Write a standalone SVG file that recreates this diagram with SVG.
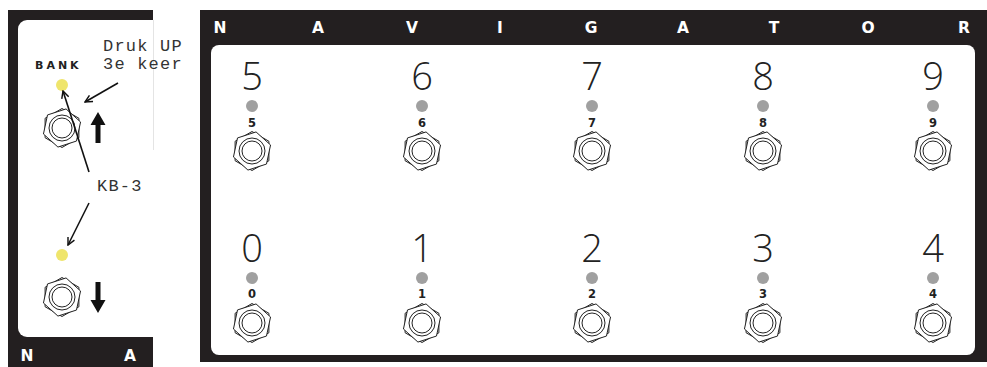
<svg xmlns="http://www.w3.org/2000/svg" width="987" height="367" viewBox="0 0 987 367">
<style>
.hdr{font-family:"DejaVu Sans","Liberation Sans",sans-serif;font-weight:bold;font-size:15.5px;fill:#fff;text-anchor:middle}
.big{font-family:"Open Sans","Lato","DejaVu Sans",sans-serif;font-weight:300;font-size:38px;fill:#222;text-anchor:middle}
.sm{font-family:"DejaVu Sans","Liberation Sans",sans-serif;font-weight:bold;font-size:11.5px;fill:#222;text-anchor:middle}
.mono{font-family:"Liberation Mono","Courier New",monospace;font-size:17px;letter-spacing:1.2px;fill:#333}
.led{fill:#a0a0a0}
.yled{fill:#efe56c}
.fs polygon,.fs circle{fill:#fff;stroke:#222;stroke-width:1}
.conn{stroke:#111;stroke-width:1.6;fill:none}
</style>
<defs>
<g id="fsw" class="fs">
<polygon points="0,-19.5 16.9,-9.75 16.9,9.75 0,19.5 -16.9,9.75 -16.9,-9.75"/>
<polygon points="4.05,-19.07 18.55,-6.03 14.49,13.05 -4.05,19.07 -18.55,6.03 -14.49,-13.05" fill="none"/>
<circle r="13"/>
<circle r="10"/>
</g>
<marker id="ah" viewBox="0 0 10 10" refX="9" refY="5" markerWidth="9" markerHeight="9" orient="auto" markerUnits="userSpaceOnUse">
<path d="M1,1 L9,5 L1,9" fill="none" stroke="#111" stroke-width="1.6"/>
</marker>
</defs>
<rect width="987" height="367" fill="#fff"/>

<!-- left panel -->
<g id="left-panel">
<rect x="8" y="10" width="145" height="357" fill="#231f20"/>
<rect x="18" y="20" width="145" height="317" rx="9" fill="#fff"/>
<line x1="153.5" y1="20" x2="153.5" y2="150" stroke="#e4e4e4" stroke-width="1"/>
<text class="hdr" x="27" y="361">N</text>
<text class="hdr" x="130" y="361">A</text>
</g>
<g id="bank-label"><text x="35" y="69" font-family="DejaVu Sans,Liberation Sans,sans-serif" font-weight="bold" font-size="11" letter-spacing="3" fill="#222">BANK</text></g>
<g id="note-up"><text class="mono" x="103" y="51">Druk UP</text><text class="mono" x="103" y="69">3e keer</text></g>
<g id="note-kb3"><text class="mono" x="97" y="191">KB-3</text></g>
<g id="bank-up">
<circle class="yled" cx="62" cy="85" r="6"/>
<use href="#fsw" x="62" y="128"/>
<path d="M98,112 L105.5,125 L100.5,125 L100.5,143 L95.5,143 L95.5,125 L90.5,125 Z" fill="#111"/>
</g>
<g id="bank-down">
<circle class="yled" cx="62" cy="255" r="6"/>
<use href="#fsw" x="62" y="297"/>
<path d="M98,313 L105.5,300 L100.5,300 L100.5,282 L95.5,282 L95.5,300 L90.5,300 Z" fill="#111"/>
</g>
<g id="connectors">
<line class="conn" x1="118" y1="83" x2="85" y2="102" marker-end="url(#ah)"/>
<line class="conn" x1="89" y1="172" x2="63" y2="91" marker-end="url(#ah)"/>
<line class="conn" x1="89" y1="203" x2="68" y2="245" marker-end="url(#ah)"/>
</g>

<!-- right panel -->
<g id="navigator-panel">
<rect x="200" y="10" width="787" height="352" fill="#231f20"/>
<rect x="211" y="45" width="764" height="310" rx="8" fill="#fff"/>
<text class="hdr" x="220" y="33">N</text>
<text class="hdr" x="318" y="33">A</text>
<text class="hdr" x="412" y="33">V</text>
<text class="hdr" x="500" y="33">I</text>
<text class="hdr" x="591" y="33">G</text>
<text class="hdr" x="683" y="33">A</text>
<text class="hdr" x="774" y="33">T</text>
<text class="hdr" x="868" y="33">O</text>
<text class="hdr" x="964" y="33">R</text>
</g>

<g id="sw5"><text class="big" x="252" y="90">5</text><circle class="led" cx="252" cy="106" r="6"/><text class="sm" x="252" y="127">5</text><use href="#fsw" x="252" y="151"/></g>
<g id="sw6"><text class="big" x="422" y="90">6</text><circle class="led" cx="422" cy="106" r="6"/><text class="sm" x="422" y="127">6</text><use href="#fsw" x="422" y="151"/></g>
<g id="sw7"><text class="big" x="592" y="90">7</text><circle class="led" cx="592" cy="106" r="6"/><text class="sm" x="592" y="127">7</text><use href="#fsw" x="592" y="151"/></g>
<g id="sw8"><text class="big" x="763" y="90">8</text><circle class="led" cx="763" cy="106" r="6"/><text class="sm" x="763" y="127">8</text><use href="#fsw" x="763" y="151"/></g>
<g id="sw9"><text class="big" x="933" y="90">9</text><circle class="led" cx="933" cy="106" r="6"/><text class="sm" x="933" y="127">9</text><use href="#fsw" x="933" y="151"/></g>

<g id="sw0"><text class="big" x="252" y="262">0</text><circle class="led" cx="252" cy="278" r="6"/><text class="sm" x="252" y="298">0</text><use href="#fsw" x="252" y="323"/></g>
<g id="sw1"><text class="big" x="422" y="262">1</text><circle class="led" cx="422" cy="278" r="6"/><text class="sm" x="422" y="298">1</text><use href="#fsw" x="422" y="323"/></g>
<g id="sw2"><text class="big" x="592" y="262">2</text><circle class="led" cx="592" cy="278" r="6"/><text class="sm" x="592" y="298">2</text><use href="#fsw" x="592" y="323"/></g>
<g id="sw3"><text class="big" x="763" y="262">3</text><circle class="led" cx="763" cy="278" r="6"/><text class="sm" x="763" y="298">3</text><use href="#fsw" x="763" y="323"/></g>
<g id="sw4"><text class="big" x="933" y="262">4</text><circle class="led" cx="933" cy="278" r="6"/><text class="sm" x="933" y="298">4</text><use href="#fsw" x="933" y="323"/></g>
</svg>
